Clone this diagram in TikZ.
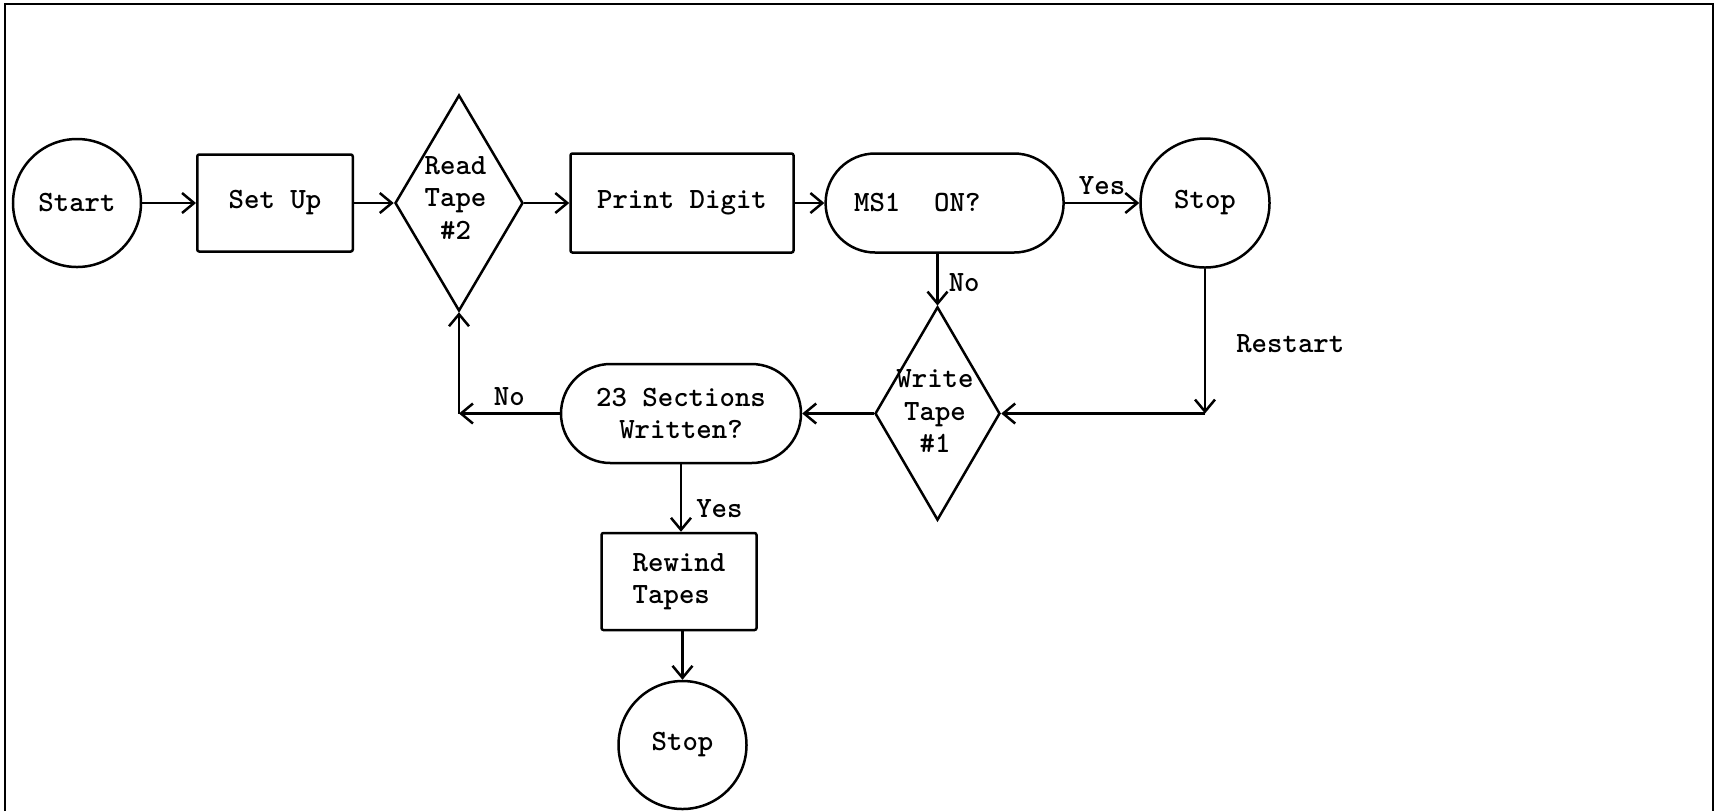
\documentclass[tikz,border=0pt]{standalone}
\usetikzlibrary{shapes.geometric,arrows.meta}
\begin{document}
\begin{tikzpicture}[x=0.5pt,y=-0.5pt,
  font=\ttfamily\bfseries\fontsize{14.7pt}{16.25pt}\selectfont,
  line width=1.25pt,
  arr/.style={-{Straight Barb[length=6pt,width=10pt,line width=1.25pt]}},
  term/.style={draw,circle,inner sep=0pt,minimum size=#1},
  box/.style={draw,rectangle,rounded corners=1pt,inner sep=0pt},
  pill/.style={draw,rectangle,rounded corners=24.75pt,inner sep=0pt,minimum height=49.5pt},
  dia/.style={draw,diamond,inner sep=0pt},
  lbl/.style={inner sep=0pt}
]
\useasboundingbox (0,0) rectangle (1717,811);
\draw[line width=1.1pt] (5,811) -- (5,4) -- (1713,4) -- (1713,811);

\node[term=64pt] (start) at (77,203) {Start};
\node[box,minimum width=77.75pt,minimum height=48.5pt] (setup) at (275,203) {Set Up};
\node[dia,minimum width=64pt,minimum height=108pt] (read) at (459,203) {};
\node[align=center,inner sep=0pt] (readtxt) at (455.5,198) {Read\\Tape\\\#2};
\node[box,minimum width=111.5pt,minimum height=49.5pt] (print) at (682,203) {Print Digit};
\node[pill,minimum width=119pt,text width=90.5pt,align=left] (ms) at (944.6,203) {MS1\hspace{1.15em}ON?};
\node[term=64.5pt] (stop) at (1205,203) {Stop};
\node[dia,minimum width=62.5pt,minimum height=106.7pt] (write) at (937.5,413.5) {};
\node[align=center,inner sep=0pt] (writetxt) at (935,411) {Write\\Tape\\\#1};
\node[pill,minimum width=120pt,align=center] (sect) at (681,413.5) {23 Sections\\Written?};
\node[box,minimum width=77.5pt,minimum height=48.5pt,align=left] (rew) at (679,581.5) {Rewind\\Tapes};
\node[term=64pt] (stop2) at (682.5,745) {Stop};
\coordinate (c1) at (1205,413.5);
\coordinate (c2) at (459,413.5);

\draw[arr] (start) -- (setup);
\draw[arr] (setup) -- (read);
\draw[arr] (read) -- (print);
\draw[arr] (print) -- (ms);
\draw[arr] (ms) -- node[lbl,above=3.5pt] (yes1) {Yes} (stop);
\draw[arr] (ms.south -| write.north) -- node[lbl,right=5pt,pos=0.55] (no1) {No} (write.north);
\draw[arr] (stop) -- node[lbl,right=15pt,pos=0.52] (rs) {Restart} (c1);
\draw[arr] (c1) -- (write.east);
\draw[arr] (write.west) -- (sect.east);
\draw[arr] (sect.west) -- node[lbl,above=3.5pt] (no2) {No} (c2);
\draw[arr] (c2) -- (read.south);
\draw[arr] (sect.south) -- node[lbl,right=7pt,pos=0.65] (yes2) {Yes} (sect.south |- rew.north);
\draw[arr] (rew.south -| stop2.north) -- (stop2.north);
\end{tikzpicture}
\end{document}
